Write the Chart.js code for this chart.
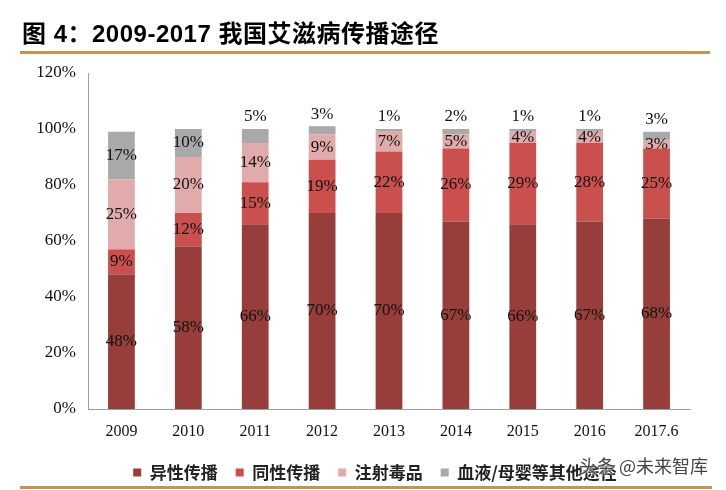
<!DOCTYPE html>
<html>
<head>
<meta charset="utf-8">
<script src="https://cdn.jsdelivr.net/npm/chart.js@4.4.1/dist/chart.umd.min.js"></script>
<style>
    html, body { margin: 0; padding: 0; background: #fff; overflow: hidden; }
    #page { position: relative; width: 726px; height: 490px; }
    #title {
        position: absolute; left: 22px; top: 14px;
        font-family: "Liberation Sans", "Noto Sans CJK SC", sans-serif;
        font-weight: bold; font-size: 24px; letter-spacing: 0.5px; color: #000; white-space: nowrap;
    }
    .rule { position: absolute; left: 20px; height: 3px; background: #C8944A; }
    #wrap { position: absolute; left: 0; top: 0; width: 726px; height: 490px; }
    #mark {
        position: absolute; left: 579px; top: 452px;
        font-family: "Noto Sans CJK SC", sans-serif; font-size: 18px; color: #444;
        text-shadow: 0 0 2px #fff, 0 0 2px #fff; white-space: nowrap;
    }
</style>
</head>
<body>
<div id="page">
    <div id="wrap"><canvas id="chartRoutes"></canvas></div>
    <div id="title">图 4：2009-2017 我国艾滋病传播途径</div>
    <div class="rule" style="top:51px; width:690px;"></div>
    <div class="rule" style="top:486px; width:692px;"></div>
    <div id="mark">头条 @未来智库</div>
</div>
<script>
// categories
const years = ['2009', '2010', '2011', '2012', '2013', '2014', '2015', '2016', '2017.6'];

// share of each route, %
const hetero = [48, 58, 66, 70, 70, 67, 66, 67, 68];
const homo = [9, 12, 15, 19, 22, 26, 29, 28, 25];
const drugs = [25, 20, 14, 9, 7, 5, 4, 4, 3];
const other = [17, 10, 5, 3, 1, 2, 1, 1, 3];

const seriesNames = ['异性传播', '同性传播', '注射毒品', '血液/母婴等其他途径'];
const seriesColors = ['#973E3A', '#C9504C', '#E2ABAB', '#A9A9A9'];

// y axis ticks
const yTicks = [0, 20, 40, 60, 80, 100, 120];

const dataRoutes = {
    labels: years,
    datasets: [hetero, homo, drugs, other].map(function (vals, i) {
        return {
            label: seriesNames[i],
            data: vals,
            backgroundColor: seriesColors[i],
            borderWidth: 0,
            barPercentage: 0.4,
            categoryPercentage: 1.0
        };
    })
};

// percent labels on the segments, small grey ones sit on top of the bar
const segmentLabels = {
    id: 'segmentLabels',
    afterDatasetsDraw(chart) {
        const ctx = chart.ctx;
        ctx.save();
        ctx.font = '17px "Liberation Serif", serif';
        ctx.fillStyle = '#111';
        ctx.textAlign = 'center';
        ctx.textBaseline = 'middle';
        chart.data.datasets.forEach(function (ds, di) {
            const meta = chart.getDatasetMeta(di);
            meta.data.forEach(function (bar, i) {
                const v = ds.data[i];
                let y = (bar.y + bar.base) / 2;
                if (di === 3 && v <= 5) {
                    y = bar.y - 12;
                }
                ctx.fillText(v + '%', bar.x, y);
            });
        });
        ctx.restore();
    }
};

// legend in the original sits a bit right of the canvas centre
const legendShift = {
    id: 'legendShift',
    afterLayout(chart) {
        chart.legend.left += 30;
        chart.legend.right += 30;
    }
};

const configRoutes = {
    type: 'bar',
    data: dataRoutes,
    plugins: [segmentLabels, legendShift],
    options: {
        responsive: true,
        maintainAspectRatio: false,
        animation: false,
        layout: {
            padding: {left: 0, right: 36, top: 73, bottom: -1}
        },
        scales: {
            x: {
                stacked: true,
                grid: {display: false, drawTicks: false},
                border: {display: true, color: '#A0A0A0', width: 1},
                ticks: {
                    color: '#111',
                    padding: 13,
                    font: {family: '"Liberation Serif", serif', size: 16}
                },
                afterFit: function (scale) {
                    scale.height = 37;
                }
            },
            y: {
                stacked: true,
                min: 0,
                max: 120,
                grid: {display: false, drawTicks: false},
                border: {display: true, color: '#A0A0A0', width: 1},
                afterBuildTicks: function (scale) {
                    scale.ticks = yTicks.map(function (v) { return {value: v}; });
                },
                ticks: {
                    color: '#111',
                    padding: 12,
                    font: {family: '"Liberation Serif", serif', size: 17},
                    callback: function (value) {
                        return value + '%';
                    }
                },
                afterFit: function (scale) {
                    scale.width = 88;
                }
            }
        },
        plugins: {
            legend: {
                position: 'bottom',
                labels: {
                    boxWidth: 8,
                    boxHeight: 8,
                    padding: 18,
                    color: '#222',
                    font: {family: '"Noto Sans CJK SC", sans-serif', size: 17, weight: 'bold'}
                }
            },
            tooltip: {enabled: false}
        }
    }
};

var chartRoutes = new Chart(
    document.getElementById('chartRoutes'),
    configRoutes
);
</script>
</body>
</html>
